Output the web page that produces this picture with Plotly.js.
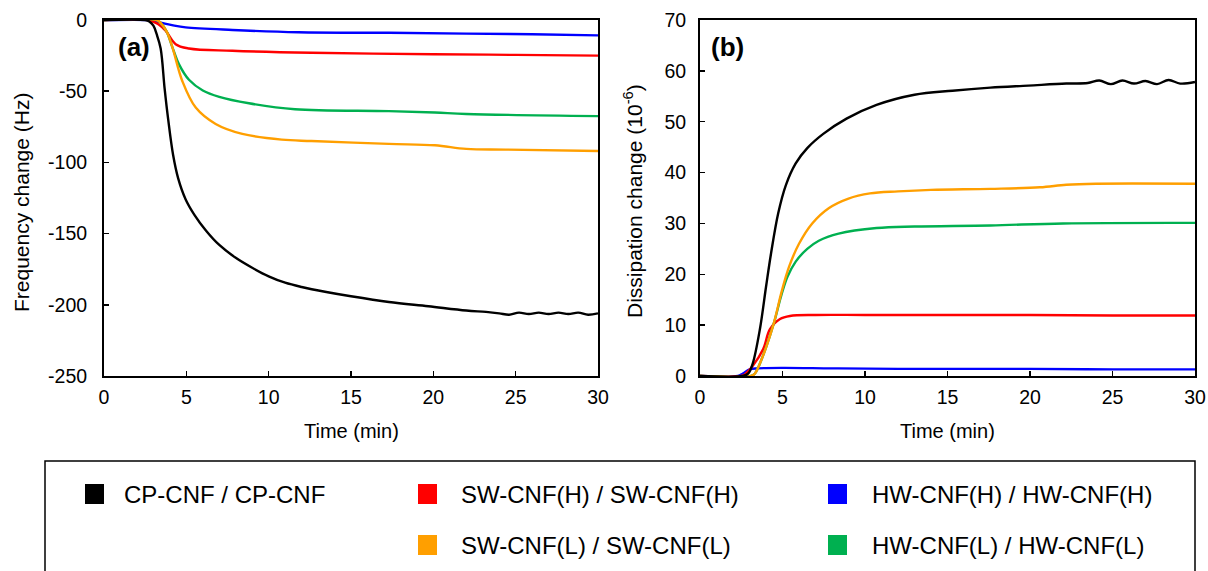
<!DOCTYPE html>
<html>
<head>
<meta charset="utf-8">
<script src="https://cdn.plot.ly/plotly-3.0.1.min.js"></script>
<style>html,body{margin:0;padding:0;background:#fff;}#chart{width:1208px;height:571px;}</style>
</head>
<body>
<div id="chart"></div>
<script>
// ---- Data ----
const seriesNames = ["CP-CNF / CP-CNF", "SW-CNF(H) / SW-CNF(H)", "HW-CNF(H) / HW-CNF(H)", "SW-CNF(L) / SW-CNF(L)", "HW-CNF(L) / HW-CNF(L)"];
const seriesColors = ["#000000", "#FF0000", "#0000FF", "#FF9F00", "#00B050"];

// Panel (a): frequency change (Hz) vs time (min)
const freqCP_t = [0, 2.5, 2.75, 3.0, 3.2, 3.44, 3.68, 3.9, 4.2, 4.5, 4.96, 5.5, 6.2, 7.0, 8.0, 9.0, 10.0, 11.0, 12.0, 13.5, 15.0, 17.3, 19.7, 22.0, 23.2, 24.0, 24.6, 25.2, 25.8, 26.4, 27.0, 27.6, 28.2, 28.8, 29.4, 30];
const freqCP_v = [0, 0, -1, -4, -10, -20, -48, -70, -95, -111, -126, -137, -148, -158, -167, -174, -180, -184.5, -187.5, -191, -194, -198, -201, -204, -205, -206, -207, -205.5, -206.5, -205.5, -206.5, -205.5, -206.5, -205.5, -207, -206];
const freqSWH_t = [0, 2.7, 2.93, 3.3, 3.74, 4.35, 5.16, 7.8, 12.6, 20, 25, 30];
const freqSWH_v = [0, 0, -1, -3, -7.5, -17, -20, -21.6, -23, -24, -24.5, -25];
const freqHWH_t = [0, 2.7, 2.93, 3.5, 4.2, 4.96, 7.8, 11.8, 17.3, 22, 26, 30];
const freqHWH_v = [0, 0, -0.5, -2, -3.8, -5.2, -7, -8.6, -9, -9.6, -10, -10.8];
const freqSWL_t = [0, 3.2, 3.44, 3.8, 4.15, 4.76, 5.57, 6.78, 8.4, 10.8, 12.6, 17.3, 20.1, 22.0, 24.4, 30];
const freqSWL_v = [0, 0, -2, -8, -19, -43, -61.5, -73, -80, -84, -85, -87, -88, -90.5, -91, -92];
const freqHWL_t = [0, 3.2, 3.44, 3.8, 4.15, 4.55, 5.16, 6.0, 7.0, 8.8, 11.6, 17.3, 20.1, 22.0, 30];
const freqHWL_v = [0, 0, -2, -8, -19, -31, -42, -49.5, -54, -58.5, -62.7, -64, -65, -66, -67.5];

// Panel (b): dissipation change (1e-6) vs time (min)
const dissCP_t = [0, 2.6, 2.93, 3.2, 3.63, 4.0, 4.3, 4.74, 5.2, 5.8, 6.5, 7.47, 8.88, 10.7, 13, 15.3, 17.6, 19.9, 22.2, 23.5, 24.2, 24.9, 25.6, 26.3, 27.0, 27.7, 28.4, 29.1, 30];
const dissCP_v = [0, 0, 0.5, 2.5, 9.2, 17.5, 24, 32, 37.5, 41.8, 44.8, 47.6, 50.6, 53.3, 55.3, 56.1, 56.7, 57.1, 57.5, 57.6, 58.1, 57.4, 58.1, 57.5, 58.0, 57.4, 58.2, 57.5, 57.8];
const dissSWH_t = [0, 2.5, 2.72, 3.2, 3.83, 4.24, 4.85, 5.45, 7, 10, 15, 20, 25, 30];
const dissSWH_v = [0, 0, 0.3, 2, 5.3, 9.2, 11.2, 11.8, 12, 12, 12, 12, 11.9, 11.9];
const dissHWH_t = [0, 2.3, 2.6, 3.0, 3.5, 5, 8, 12, 20, 25, 30];
const dissHWH_v = [0, 0, 0.5, 1.3, 1.5, 1.6, 1.5, 1.4, 1.4, 1.3, 1.3];
const dissSWL_t = [0, 3.1, 3.33, 3.7, 4.44, 4.94, 5.4, 6.0, 6.8, 7.8, 9.0, 10.3, 12, 14, 17.6, 20.6, 22.2, 24, 30];
const dissSWL_v = [0, 0, 0.5, 3, 10, 16.5, 21.5, 26, 30, 33, 34.9, 35.9, 36.3, 36.6, 36.8, 37.1, 37.6, 37.8, 37.8];
const dissHWL_t = [0, 3.1, 3.33, 3.7, 4.44, 4.94, 5.3, 5.8, 6.5, 7.2, 8.4, 10.7, 13, 17.6, 22, 30];
const dissHWL_v = [0, 0, 0.5, 3, 10, 16, 19.5, 22.5, 25, 26.6, 28, 29.1, 29.4, 29.6, 30, 30.1];

// Tick labels
const xTickVals = [0, 5, 10, 15, 20, 25, 30];
const freqTickVals = [0, -50, -100, -150, -200, -250];
const freqTickText = ["0", "-50", "-100", "-150", "-200", "-250"];
const dissTickVals = [0, 10, 20, 30, 40, 50, 60, 70];

// ---- Build traces ----
const freqData = [[freqCP_t, freqCP_v], [freqSWH_t, freqSWH_v], [freqHWH_t, freqHWH_v], [freqSWL_t, freqSWL_v], [freqHWL_t, freqHWL_v]];
const dissData = [[dissCP_t, dissCP_v], [dissSWH_t, dissSWH_v], [dissHWH_t, dissHWH_v], [dissSWL_t, dissSWL_v], [dissHWL_t, dissHWL_v]];
const order = [2, 1, 4, 3, 0];
const traces = [];
order.forEach(i => {
  traces.push({x: freqData[i][0], y: freqData[i][1], xaxis: 'x', yaxis: 'y', mode: 'lines', name: seriesNames[i],
    line: {color: seriesColors[i], width: 2.4, shape: 'spline', smoothing: 1}, showlegend: false, hoverinfo: 'skip'});
  traces.push({x: dissData[i][0], y: dissData[i][1], xaxis: 'x2', yaxis: 'y2', mode: 'lines', name: seriesNames[i],
    line: {color: seriesColors[i], width: 2.4, shape: 'spline', smoothing: 1}, showlegend: false, hoverinfo: 'skip'});
});

const W = 1208, H = 571;
const px = v => v / W, py = v => 1 - v / H;
const font = {family: 'Liberation Sans, Arial, sans-serif', color: '#000'};
const f = s => Object.assign({size: s}, font);
const axisCommon = {
  showline: true, mirror: true, linecolor: '#000', linewidth: 2, ticks: 'inside', ticklen: 5, tickwidth: 1.5, tickcolor: '#000',
  showgrid: false, zeroline: false, tickfont: f(19.5), fixedrange: true
};

const shapes = [{type: 'rect', xref: 'paper', yref: 'paper', x0: px(45), x1: px(1195), y0: -0.2, y1: py(461),
  line: {color: '#000', width: 1.5}, fillcolor: 'rgba(0,0,0,0)'}];
const annotations = [
  {xref: 'paper', yref: 'paper', x: px(116), y: py(47), text: '<b>(a)</b>', showarrow: false, xanchor: 'left', yanchor: 'middle', font: f(26)},
  {xref: 'paper', yref: 'paper', x: px(709), y: py(47), text: '<b>(b)</b>', showarrow: false, xanchor: 'left', yanchor: 'middle', font: f(26)},
  {xref: 'paper', yref: 'paper', x: px(351), y: py(431), text: 'Time (min)', showarrow: false, xanchor: 'center', yanchor: 'middle', font: f(20)},
  {xref: 'paper', yref: 'paper', x: px(947), y: py(431), text: 'Time (min)', showarrow: false, xanchor: 'center', yanchor: 'middle', font: f(20)},
  {xref: 'paper', yref: 'paper', x: px(21), y: py(203), text: 'Frequency change (Hz)', textangle: -90, showarrow: false, xanchor: 'center', yanchor: 'middle', font: f(21)},
  {xref: 'paper', yref: 'paper', x: px(633), y: py(201), text: 'Dissipation change (10<sup>-6</sup>)', textangle: -90, showarrow: false, xanchor: 'center', yanchor: 'middle', font: f(21)}
];
// Legend layout: [marker left x, text left x, row center y]
const legendPos = [[85, 122, 494], [418, 459, 494], [828, 870, 494], [418, 459, 545], [828, 870, 545]];
legendPos.forEach((p, i) => {
  shapes.push({type: 'rect', xref: 'paper', yref: 'paper', x0: px(p[0]), x1: px(p[0] + 19), y0: py(p[2] + 10), y1: py(p[2] - 10),
    line: {width: 0}, fillcolor: seriesColors[i]});
  annotations.push({xref: 'paper', yref: 'paper', x: px(p[1]), y: py(p[2]), text: seriesNames[i], showarrow: false,
    xanchor: 'left', yanchor: 'middle', font: f(24)});
});

const layout = {
  width: W, height: H, margin: {l: 0, r: 0, t: 0, b: 0}, paper_bgcolor: '#fff', plot_bgcolor: '#fff', showlegend: false,
  font: font,
  xaxis: Object.assign({}, axisCommon, {domain: [px(104), px(598)], range: [0, 30], tickvals: xTickVals, anchor: 'y', ticklabelstandoff: 3}),
  yaxis: Object.assign({}, axisCommon, {domain: [py(376), py(20)], range: [-250, 0], tickvals: freqTickVals, ticktext: freqTickText, anchor: 'x', ticklabelstandoff: 11}),
  xaxis2: Object.assign({}, axisCommon, {domain: [px(700), px(1195)], range: [0, 30], tickvals: xTickVals, anchor: 'y2', ticklabelstandoff: 3}),
  yaxis2: Object.assign({}, axisCommon, {domain: [py(376), py(20)], range: [0, 70], tickvals: dissTickVals, anchor: 'x2', ticklabelstandoff: 8}),
  shapes: shapes, annotations: annotations
};

Plotly.newPlot('chart', traces, layout, {staticPlot: true, displayModeBar: false});
</script>
</body>
</html>
